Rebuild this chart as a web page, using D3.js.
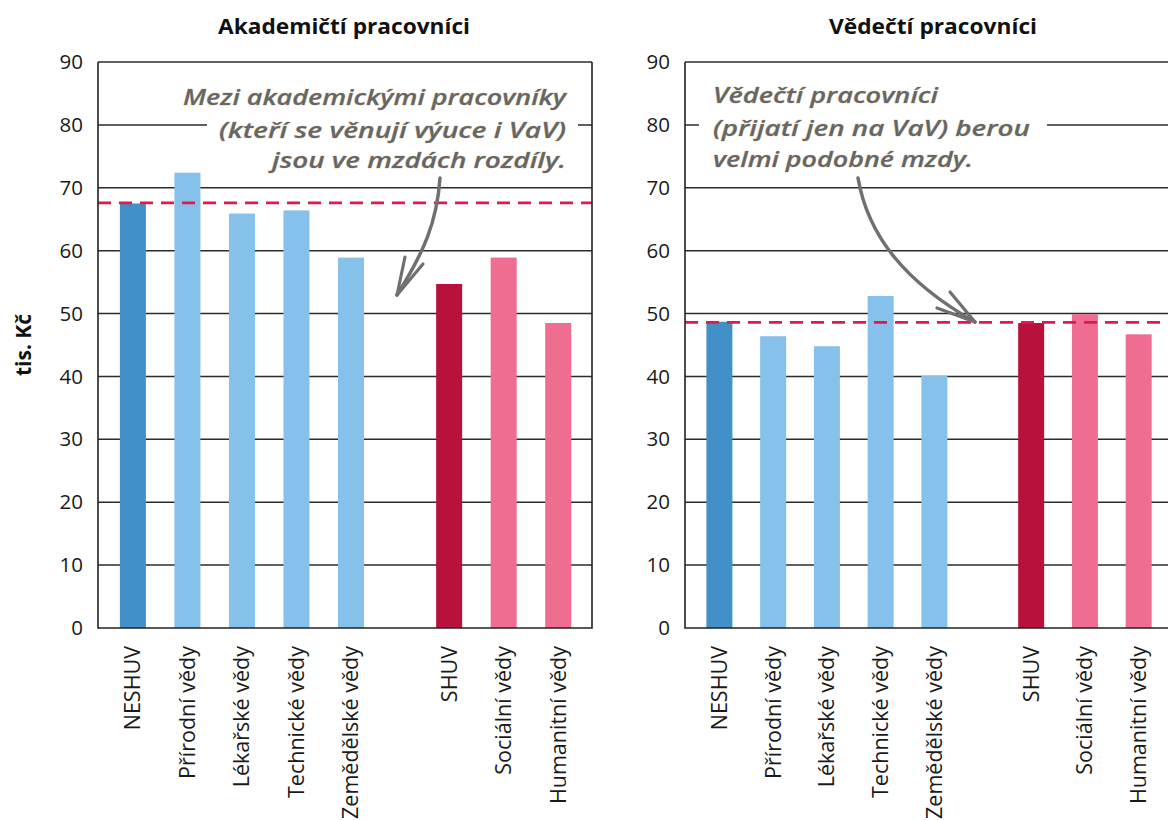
<!DOCTYPE html>
<html><head><meta charset="utf-8">
<script src="https://cdn.jsdelivr.net/npm/d3@7/dist/d3.min.js"></script>
<style>
html,body{margin:0;padding:0;background:#fff;}
svg{display:block;}
text{font-family:"Open Sans","Noto Sans",sans-serif;}
</style></head>
<body>
<svg id="chart" width="1168" height="820"></svg>
<script>
// ---- data ----
const categories = ["NESHUV","Přírodní vědy","Lékařské vědy","Technické vědy","Zemědělské vědy","SHUV","Sociální vědy","Humanitní vědy"];
const groups = [0,0,0,0,0,1,1,1];              // 0 = non-SHUV group, 1 = SHUV group
const barKinds = ["total","field","field","field","field","total","field","field"];
const academicValues = [67.5,72.4,65.9,66.4,58.9,54.7,58.9,48.5];
const scientificValues = [48.7,46.4,44.8,52.8,40.1,48.5,49.9,46.7];
const academicAverage = 67.6;
const scientificAverage = 48.6;
const yTicks = [0,10,20,30,40,50,60,70,80,90];
const panelTitles = ["Akademičtí pracovníci","Vědečtí pracovníci"];
const yAxisTitle = "tis. Kč";
const notes = [
  ["Mezi akademickými pracovníky","(kteří se věnují výuce i VaV)","jsou ve mzdách rozdíly."],
  ["Vědečtí pracovníci","(přijatí jen na VaV) berou","velmi podobné mzdy."]
];

// ---- layout ----
const colors = {
  0:{total:"#4190c7", field:"#85c1eb"},
  1:{total:"#b8123c", field:"#ee6d91"}
};
const svg = d3.select("#chart");
const y = d3.scaleLinear().domain([0,90]).range([628,62]);
const groupGap = 0.8;
const slot = i => i + groups[i]*groupGap;

const panels = [
  {left:98, right:592, values:academicValues, avg:academicAverage, title:panelTitles[0], titleX:344, titleLen:252,
   note:notes[0], noteAnchor:"end", noteX:566, noteLens:[383,347,294], noteBase:[105,138,168],
   mask:[207,578],
   arrow:"M440,178 C437,222 424,252 397,295", barbs:["M397,295 L405,257","M397,295 L423,264"]},
  {left:685, right:1172, values:scientificValues, avg:scientificAverage, title:panelTitles[1], titleX:933, titleLen:208,
   note:notes[1], noteAnchor:"start", noteX:713, noteLens:[225,317,260], noteBase:[103,136,167],
   mask:[699,1047],
   arrow:"M858,178 C868,236 905,282 975,322", barbs:["M975,322 L937,308","M975,322 L950,292"]}
];

panels.forEach(p => {
  const x = d3.scaleLinear().domain([-0.64, 8.42]).range([p.left, p.right]);
  const g = svg.append("g");
  // gridlines
  g.selectAll("line.grid").data(yTicks.filter(t=>t>0)).join("line")
    .attr("x1",p.left).attr("x2",p.right).attr("y1",d=>y(d)).attr("y2",d=>y(d))
    .attr("stroke","#2b2b2b").attr("stroke-width",1.5);
  // mask behind annotation
  g.append("rect").attr("x",p.mask[0]).attr("y",y(88)).attr("width",p.mask[1]-p.mask[0]).attr("height",y(73)-y(88)).attr("fill","#fff");
  // y axis labels
  const ax = d3.axisLeft(y).tickValues(yTicks).tickSize(0).tickPadding(15).tickFormat(d3.format("d"));
  const ag = g.append("g").attr("transform",`translate(${p.left},0)`).call(ax);
  ag.select(".domain").remove();
  ag.selectAll("text").attr("font-size",20.5).attr("fill","#1a1a1a").attr("font-family","'Open Sans',sans-serif");
  // bars
  const bw = 26;
  g.selectAll("rect.bar").data(p.values).join("rect")
    .attr("x",(d,i)=>x(slot(i))-bw/2).attr("width",bw)
    .attr("y",d=>y(d)).attr("height",d=>y(0)-y(d))
    .attr("fill",(d,i)=>colors[groups[i]][barKinds[i]]);
  // average dashed line
  g.append("line").attr("x1",p.left).attr("x2",p.right).attr("y1",y(p.avg)).attr("y2",y(p.avg))
    .attr("stroke","#e2184f").attr("stroke-width",2.6).attr("stroke-dasharray","13,8");
  // frame
  g.append("path").attr("d",`M${p.left},${y(90)} L${p.left},${y(0)} L${p.right},${y(0)} L${p.right},${y(90)}`)
    .attr("fill","none").attr("stroke","#222").attr("stroke-width",1.6);
  // x labels
  g.selectAll("text.xl").data(categories).join("text")
    .attr("transform",(d,i)=>`translate(${x(slot(i))+7.5},646) rotate(-90)`)
    .attr("text-anchor","end").attr("font-size",21.5).attr("fill","#1a1a1a").text(d=>d);
  // title
  g.append("text").attr("x",p.titleX).attr("y",34).attr("text-anchor","middle")
    .attr("font-size",21).attr("font-weight","bold").attr("fill","#111")
    .attr("textLength",p.titleLen).attr("lengthAdjust","spacingAndGlyphs").text(p.title);
  // annotation
  p.note.forEach((t,k)=>{
    g.append("text").attr("x",p.noteX).attr("y",p.noteBase[k]).attr("text-anchor",p.noteAnchor)
      .attr("font-size",21).attr("font-style","italic").attr("font-weight",600).attr("fill","#666")
      .attr("stroke","#c9b48a").attr("stroke-width",0.5).attr("paint-order","stroke")
      .attr("textLength",p.noteLens[k]).attr("lengthAdjust","spacingAndGlyphs")
      .attr("font-family","'Open Sans',sans-serif").text(t);
  });
  g.append("path").attr("d",p.arrow).attr("fill","none").attr("stroke","#707070").attr("stroke-width",3.5).attr("stroke-linecap","round");
  p.barbs.forEach(b=>g.append("path").attr("d",b).attr("fill","none").attr("stroke","#707070").attr("stroke-width",3.2).attr("stroke-linecap","round"));
});

// y axis title
svg.append("text").attr("transform",`translate(31,${y(45)}) rotate(-90)`).attr("text-anchor","middle")
  .attr("font-size",21).attr("font-weight","bold").attr("fill","#111").text(yAxisTitle);
</script>
</body></html>
